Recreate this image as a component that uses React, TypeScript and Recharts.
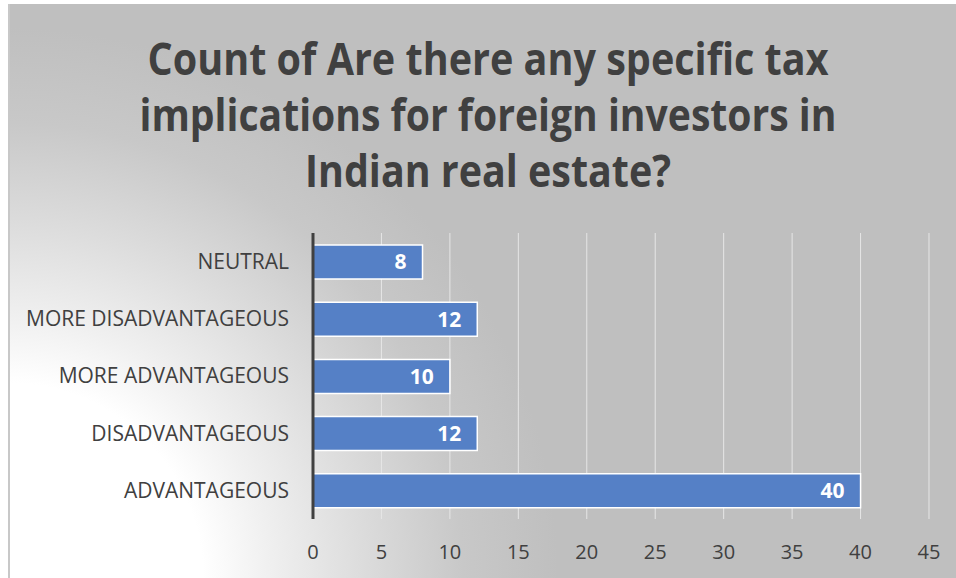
import { BarChart, Bar, XAxis, YAxis, CartesianGrid, LabelList } from "recharts";

// categories in the order Excel plots them (bottom to top)
const categories = [
  "ADVANTAGEOUS",
  "DISADVANTAGEOUS",
  "MORE ADVANTAGEOUS",
  "MORE DISADVANTAGEOUS",
  "NEUTRAL",
];
const counts = [40, 12, 10, 12, 8];
const xTicks = [0, 5, 10, 15, 20, 25, 30, 35, 40, 45];

const titleLines = [
  "Count of Are there any specific tax",
  "implications for foreign investors in",
  "Indian real estate?",
];
const titleWidths = [681, 697, 366];

const data = categories.map((name, i) => ({ name, count: counts[i] }));

const FONT = "'Open Sans', sans-serif";
const TEXT = "#404040";

export default function App() {
  return (
    <div
      style={{
        position: "absolute",
        left: 8,
        top: 4,
        width: 948,
        height: 574,
        background:
          "radial-gradient(circle at 0% 100%, #ffffff 0px, #ffffff 195px, #f0f0f0 260px, #dcdcdc 355px, #c8c8c8 455px, #bfbfbf 550px)",
        fontFamily: FONT,
      }}
    >
      <div style={{ position: "absolute", left: 0, top: 0, width: 2, height: 574, background: "#c8c8c8" }} />
      <svg width={948} height={220} style={{ position: "absolute", left: 0, top: 0 }}>
        {titleLines.map((line, i) => (
          <text
            key={i}
            x={480}
            y={71 + i * 56}
            textAnchor="middle"
            fill={TEXT}
            fontFamily={FONT}
            fontWeight="bold"
            fontSize={44}
            textLength={titleWidths[i]}
            lengthAdjust="spacingAndGlyphs"
          >
            {line}
          </text>
        ))}
      </svg>
      <div style={{ position: "absolute", left: 0, top: 0 }}>
        <BarChart
          width={948}
          height={574}
          data={data}
          layout="vertical"
          margin={{ top: 229, right: 27, bottom: 29, left: 0 }}
        >
          <CartesianGrid horizontal={false} stroke="#e6e6e6" strokeWidth={1} />
          <XAxis
            type="number"
            domain={[0, 45]}
            ticks={xTicks}
            axisLine={false}
            tickLine={false}
            height={30}
            tickMargin={20}
            tick={{ fill: TEXT, fontSize: 20, fontFamily: FONT }}
          />
          <YAxis
            type="category"
            dataKey="name"
            width={305}
            reversed
            axisLine={{ stroke: TEXT, strokeWidth: 3 }}
            tickLine={false}
            tickMargin={18}
            tick={{ fill: TEXT, fontSize: 21, fontFamily: FONT }}
          />
          <Bar
            dataKey="count"
            fill="#5580c6"
            stroke="#ffffff"
            strokeWidth={1.5}
            barSize={34}
            isAnimationActive={false}
          >
            <LabelList
              dataKey="count"
              position="insideRight"
              offset={16}
              fill="#ffffff"
              fontSize={21}
              fontWeight="bold"
              fontFamily={FONT}
            />
          </Bar>
        </BarChart>
      </div>
    </div>
  );
}
